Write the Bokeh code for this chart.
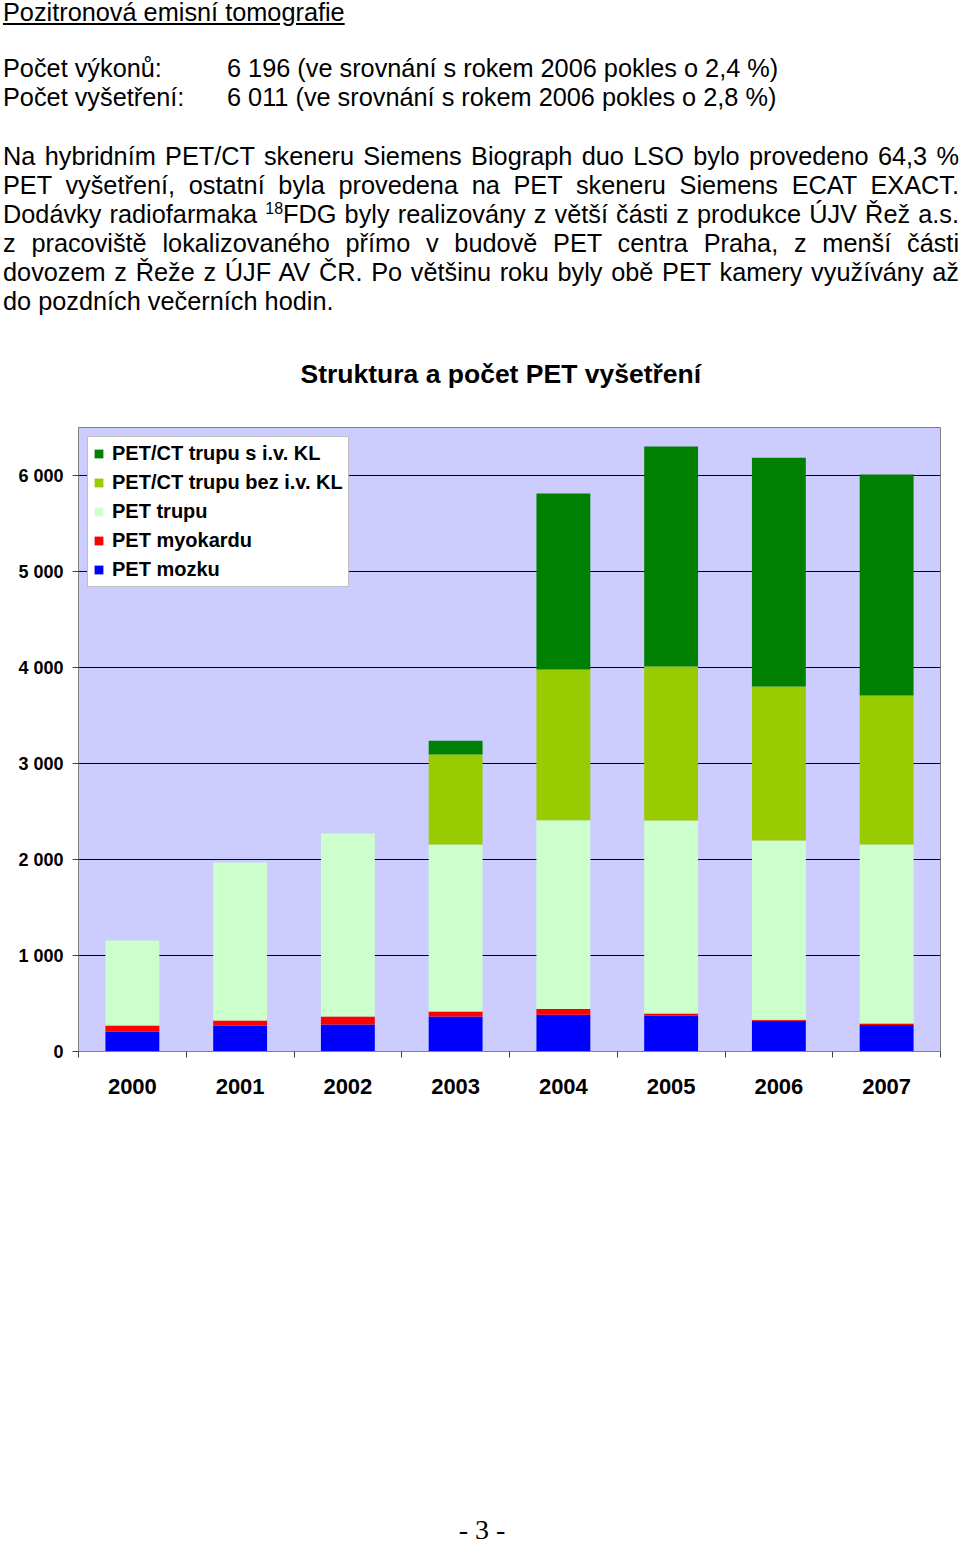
from bokeh.plotting import figure
from bokeh.models import (Div, Range1d, LinearAxis, FixedTicker, Legend, LegendItem, ColumnDataSource)
from bokeh.layouts import column
from bokeh.embed import file_html
from bokeh.resources import INLINE

# ---------------- data ----------------
years = ["2000", "2001", "2002", "2003", "2004", "2005", "2006", "2007"]
pet_mozku = [208, 271, 281, 365, 382, 372, 320, 275]
pet_myokardu = [63, 52, 84, 52, 62, 24, 10, 17]
pet_trupu = [885, 1646, 1906, 1739, 1965, 2010, 1868, 1864]
petct_bez_kl = [0, 0, 0, 938, 1570, 1604, 1604, 1552]
petct_s_kl = [0, 0, 0, 142, 1834, 2292, 2382, 2303]

series_names = ["PET mozku", "PET myokardu", "PET trupu",
                "PET/CT trupu bez i.v. KL", "PET/CT trupu s i.v. KL"]
series_keys = ["mozku", "myokardu", "trupu", "bez", "s"]
series_colors = ["#0000FF", "#FF0000", "#CCFFCC", "#99CC00", "#008000"]

y_ticks = [0, 1000, 2000, 3000, 4000, 5000, 6000]
y_tick_labels = ["0", "1 000", "2 000", "3 000", "4 000", "5 000", "6 000"]

chart_title = "Struktura a počet PET vyšetření"

FONT = "Liberation Sans"

# ---------------- text block ----------------
def line(top, html, left=3, justify=False):
    al = "text-align:justify;text-align-last:justify;width:956px;" if justify else "text-align:left;white-space:nowrap;"
    return (f'<div style="position:absolute;left:{left}px;top:{top}px;'
            f'height:29px;line-height:29px;{al}">{html}</div>')

lines_html = []
lines_html.append(line(-2.5, '<span style="text-decoration:underline;">Pozitronová emisní tomografie</span>'))
lines_html.append(line(53.5, 'Počet výkonů:'))
lines_html.append(line(53.5, '6 196 (ve srovnání s rokem 2006 pokles o 2,4 %)', left=227))
lines_html.append(line(82.5, 'Počet vyšetření:'))
lines_html.append(line(82.5, '6 011 (ve srovnání s rokem 2006 pokles o 2,8 %)', left=227))
para = [
    "Na hybridním PET/CT skeneru Siemens Biograph duo LSO bylo provedeno 64,3 %",
    "PET vyšetření, ostatní byla provedena na PET skeneru Siemens ECAT EXACT.",
    'Dodávky radiofarmaka <sup style="font-size:16px;line-height:0;vertical-align:9px;">18</sup>FDG byly realizovány z větší části z produkce ÚJV Řež a.s.',
    "z pracoviště lokalizovaného přímo v budově PET centra Praha, z menší části",
    "dovozem z Řeže z ÚJF AV ČR. Po většinu roku byly obě PET kamery využívány až",
]
for i, t in enumerate(para):
    lines_html.append(line(141.5 + 29 * i, t, justify=True))
lines_html.append(line(286.5, "do pozdních večerních hodin."))

TEXT_H = 315
text_html = (f'<div style="position:relative;left:0;top:0;width:960px;height:{TEXT_H}px;overflow:visible;'
             f'font-family:\'{FONT}\';font-size:25.3px;color:#000;">' + "".join(lines_html) + '</div>')
div_text = Div(text=text_html, width=960, height=TEXT_H, margin=0, styles={"overflow": "visible"})

# ---------------- chart ----------------
n = len(years)
x_pos = [i + 0.5 for i in range(n)]          # category centres on a 0..n axis
data = dict(x=x_pos, year=years, mozku=pet_mozku, myokardu=pet_myokardu, trupu=pet_trupu,
            bez=petct_bez_kl, s=petct_s_kl)
source = ColumnDataSource(data)

p = figure(x_range=Range1d(0, n), y_range=Range1d(0, 6500),
           width=955, height=1110 - TEXT_H, output_backend="svg", toolbar_location=None,
           min_border_left=78, min_border_right=15, min_border_top=427 - TEXT_H, min_border_bottom=59,
           x_axis_location=None, title=chart_title, margin=0)

p.background_fill_color = "#CCCCFF"
p.border_fill_color = "#FFFFFF"
p.border_fill_alpha = 0
p.outline_line_color = "#808080"
p.outline_line_width = 1

p.title.align = "left"
p.title.offset = 222
p.title.text_font = FONT
p.title.text_font_style = "bold"
p.title.text_font_size = "26.5px"
p.title.text_color = "#000000"
p.title.standoff = 78

renderers = p.vbar_stack(series_keys, x="x", width=0.5, source=source,
                         fill_color=series_colors, line_color=None)

# y axis
yax = p.yaxis[0]
yax.ticker = FixedTicker(ticks=y_ticks)
yax.major_label_overrides = {t: l for t, l in zip(y_ticks, y_tick_labels)}
yax.major_label_text_font = FONT
yax.major_label_text_font_style = "bold"
yax.major_label_text_font_size = "18px"
yax.major_label_text_color = "#000000"
yax.major_tick_out = 6
yax.major_tick_in = 0
yax.minor_tick_out = 0
yax.minor_tick_in = 0
yax.major_label_standoff = 9
yax.axis_line_color = "#808080"
yax.major_tick_line_color = "#404040"

p.ygrid.grid_line_color = "#000000"
p.ygrid.grid_line_width = 1
p.xgrid.grid_line_color = None

# x axis: boundary ticks, then category labels below
edge_ticks = list(range(n + 1))
edge_axis = LinearAxis(ticker=FixedTicker(ticks=edge_ticks),
                       major_label_overrides={t: "" for t in edge_ticks},
                       major_label_text_font_size="1px", major_label_standoff=0,
                       major_tick_out=6, major_tick_in=0, minor_tick_out=0, minor_tick_in=0,
                       axis_line_color="#808080", major_tick_line_color="#404040")
p.add_layout(edge_axis, "below")

cat_axis = LinearAxis(ticker=FixedTicker(ticks=x_pos),
                      major_label_overrides={x: y for x, y in zip(x_pos, years)},
                      major_tick_out=0, major_tick_in=0, minor_tick_out=0, minor_tick_in=0,
                      axis_line_color=None,
                      major_label_text_font=FONT, major_label_text_font_style="bold",
                      major_label_text_font_size="22px", major_label_text_color="#000000",
                      major_label_standoff=21)
p.add_layout(cat_axis, "below")

items = [LegendItem(label=series_names[i], renderers=[renderers[i]]) for i in reversed(range(5))]
legend = Legend(items=items, location="top_left", margin=9, padding=5,
                glyph_width=11, glyph_height=11, label_height=22, spacing=6, label_standoff=8,
                label_text_font=FONT, label_text_font_style="bold", label_text_font_size="20px",
                label_text_color="#000000", border_line_color="#808080",
                background_fill_color="#FFFFFF", background_fill_alpha=1)
p.add_layout(legend)

# ---------------- footer ----------------
foot_html = ('<div style="position:relative;width:960px;height:433px;">'
             '<div style="position:absolute;left:2px;top:404px;width:960px;text-align:center;'
             'font-family:\'Liberation Serif\';font-size:28px;line-height:32px;color:#000;">- 3 -</div></div>')
div_foot = Div(text=foot_html, width=960, height=433, margin=0, styles={"overflow": "visible"})

layout = column(div_text, p, div_foot)
open("out.html", "w").write(file_html(layout, INLINE))
